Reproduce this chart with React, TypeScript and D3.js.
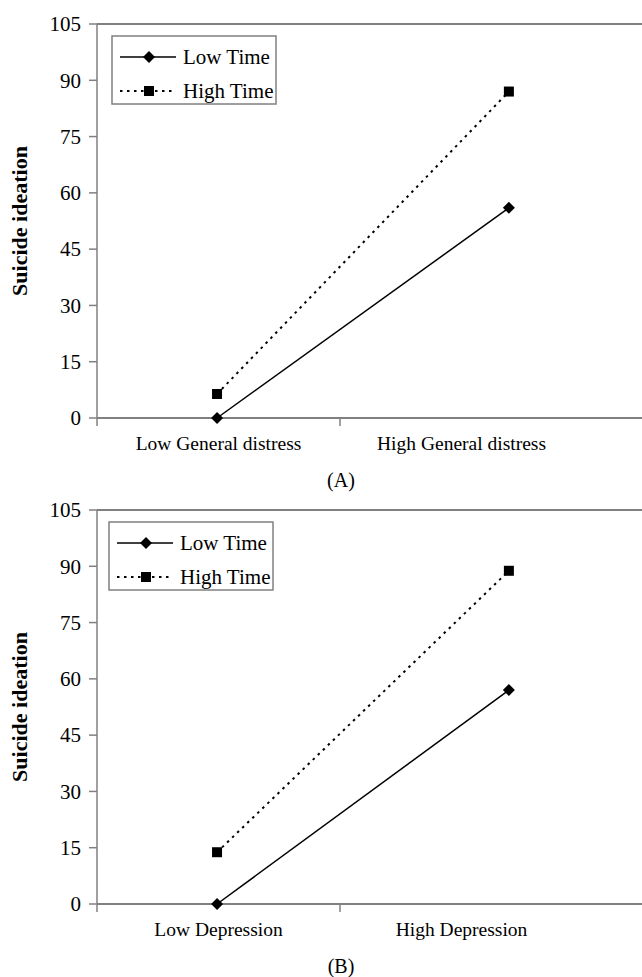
import React from "react";
import * as d3 from "d3";

const yTicks = [0, 15, 30, 45, 60, 75, 90, 105];
const seriesNames = ["Low Time", "High Time"];
const panelLabels = ["(A)", "(B)"];
const categoriesA = ["Low General distress", "High General distress"];
const categoriesB = ["Low Depression", "High Depression"];
const pointPositions = [0.494, 1.695];
const lowTimeA = [0, 56];
const highTimeA = [6.4, 87];
const lowTimeB = [0, 57];
const highTimeB = [13.8, 88.8];

const FONT = "'Liberation Serif', 'Times New Roman', serif";
const AXIS = "#808080";
const DIAMOND = "M0,-6L6,0L0,6L-6,0Z";

function Panel({ top, cats, low, high, label, legendX }: any) {
  const x = d3.scaleLinear().domain([0, 2]).range([97, 583]);
  const y = d3.scaleLinear().domain([0, 105]).range([top + 394, top]);
  const line = d3
    .line<number>()
    .x((_, i) => x(pointPositions[i]))
    .y((d) => y(d));
  const legendY = top + 12;
  return (
    <g>
      <line x1={97} x2={642} y1={y(105)} y2={y(105)} stroke={AXIS} strokeWidth={2} />
      <line x1={97} x2={97} y1={y(105)} y2={y(0)} stroke={AXIS} strokeWidth={1.5} />
      {yTicks.map((t) => (
        <g key={t}>
          <line x1={89} x2={97} y1={y(t)} y2={y(t)} stroke={AXIS} strokeWidth={1.5} />
          <text x={81} y={y(t)} dy="0.35em" textAnchor="end" fontSize={21} fontFamily={FONT}>
            {t}
          </text>
        </g>
      ))}
      <line x1={97} x2={642} y1={y(0)} y2={y(0)} stroke={AXIS} strokeWidth={2} />
      {[0, 1].map((t) => (
        <line key={t} x1={x(t)} x2={x(t)} y1={y(0)} y2={y(0) + 8} stroke={AXIS} strokeWidth={1.5} />
      ))}
      {cats.map((c: string, i: number) => (
        <text key={c} x={x(i + 0.5)} y={y(0) + 32} textAnchor="middle" fontSize={19.5} fontFamily={FONT}>
          {c}
        </text>
      ))}
      <text x={341} y={y(0) + 69} textAnchor="middle" fontSize={20} fontFamily={FONT}>
        {label}
      </text>
      <text
        transform={`translate(27,${top + 197}) rotate(-90)`}
        textAnchor="middle"
        fontSize={22}
        fontWeight="bold"
        fontFamily={FONT}
      >
        Suicide ideation
      </text>
      <path d={line(high) || ""} fill="none" stroke="#000" strokeWidth={2} strokeDasharray="2.5,4.5" />
      <path d={line(low) || ""} fill="none" stroke="#000" strokeWidth={1.5} />
      {high.map((v: number, i: number) => (
        <rect key={i} x={x(pointPositions[i]) - 5} y={y(v) - 5} width={10} height={10} fill="#000" />
      ))}
      {low.map((v: number, i: number) => (
        <path key={i} d={DIAMOND} transform={`translate(${x(pointPositions[i])},${y(v)})`} fill="#000" />
      ))}
      <rect x={legendX} y={legendY} width={164} height={68} fill="#fff" stroke={AXIS} strokeWidth={1.5} />
      <line x1={legendX + 8} x2={legendX + 64} y1={legendY + 21} y2={legendY + 21} stroke="#000" strokeWidth={1.5} />
      <path d={DIAMOND} transform={`translate(${legendX + 37},${legendY + 21})`} fill="#000" />
      <text x={legendX + 71} y={legendY + 21} dy="0.35em" fontSize={21} fontFamily={FONT}>
        {seriesNames[0]}
      </text>
      <line x1={legendX + 8} x2={legendX + 64} y1={legendY + 55} y2={legendY + 55} stroke="#000" strokeWidth={2} strokeDasharray="2.5,4.5" />
      <rect x={legendX + 32} y={legendY + 50} width={10} height={10} fill="#000" />
      <text x={legendX + 71} y={legendY + 55} dy="0.35em" fontSize={21} fontFamily={FONT}>
        {seriesNames[1]}
      </text>
    </g>
  );
}

export default function App() {
  return (
    <svg width={642} height={977} style={{ position: "absolute", left: 0, top: 0, background: "#fff" }}>
      <rect width={642} height={977} fill="#fff" />
      <Panel top={24} cats={categoriesA} low={lowTimeA} high={highTimeA} label={panelLabels[0]} legendX={112} />
      <Panel top={510} cats={categoriesB} low={lowTimeB} high={highTimeB} label={panelLabels[1]} legendX={109} />
    </svg>
  );
}
